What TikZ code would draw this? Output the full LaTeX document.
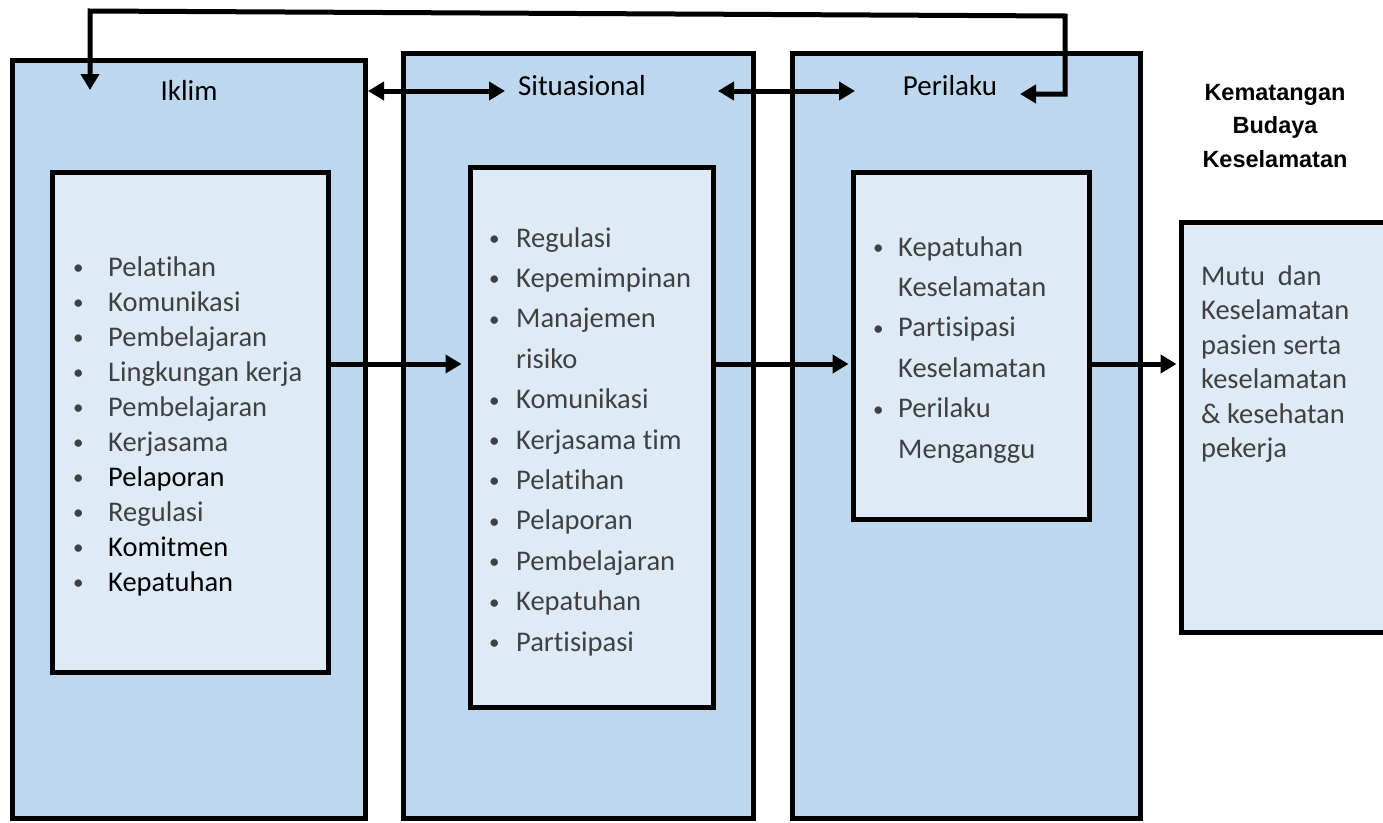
\documentclass[tikz,border=0pt]{standalone}
\usepackage{fontspec}
\setmainfont{Carlito}[Ligatures=NoCommon]
\newfontfamily\arialfont{Liberation Sans}
\usetikzlibrary{arrows.meta}
\definecolor{outerblue}{HTML}{BDD7EE}
\definecolor{innerblue}{HTML}{DEEBF7}
\definecolor{txtgray}{HTML}{404040}
\newcommand\bul[1]{\makebox[#1][l]{\raisebox{1.5pt}{\fontsize{21}{21}\selectfont\textbullet}}}
\begin{document}
\begin{tikzpicture}[x=1pt,y=-1pt,
  outerbox/.style={draw=black, line width=5pt, fill=outerblue, inner sep=0pt, rectangle},
  innerbox/.style={draw=black, line width=5pt, fill=innerblue, inner sep=0pt, rectangle},
  conn/.style={line width=5pt, -{Triangle[length=16pt,width=18pt]}},
  biconn/.style={line width=5pt, {Triangle[length=16pt,width=18pt]}-{Triangle[length=16pt,width=18pt]}},
  listtext/.style={anchor=base west, inner sep=0pt, text=txtgray},
  title/.style={anchor=base, inner sep=0pt, text=black, font=\fontsize{29}{35}\selectfont}]
\useasboundingbox (0,0) rectangle (1383,822);
\clip (0,0) rectangle (1383,822);
% outer boxes
\node[outerbox, minimum width=353pt, minimum height=758pt] (iklim) at (188.5,439) {};
\node[outerbox, minimum width=350pt, minimum height=765pt] (sit) at (578,435.5) {};
\node[outerbox, minimum width=348pt, minimum height=765pt] (per) at (966,435.5) {};
\node[innerbox, minimum width=230pt, minimum height=410pt] (hasil) at (1296,427) {};
% inner boxes
\node[innerbox, minimum width=276pt, minimum height=500pt] (iklimIn) at (190,422) {};
\node[innerbox, minimum width=243pt, minimum height=540pt] (sitIn) at (591.5,437) {};
\node[innerbox, minimum width=236pt, minimum height=347pt] (perIn) at (971,345.5) {};
% titles
\node[title] (tIklim) at (189,100) {Iklim};
\node[title] (tSit) at (582,95) {Situasional};
\node[title] (tPer) at (950,95) {Perilaku};
\node[anchor=base, inner sep=0pt] (tKem) at (1275,100) {\arialfont\bfseries\fontsize{23.5}{33.5}\selectfont
  \begin{tabular}[t]{@{}c@{}}Kematangan\\Budaya\\Keselamatan\end{tabular}};
% lists
\node[listtext] (lIklim) at (73,276) {\fontsize{28.5}{35}\selectfont
  \begin{tabular}[t]{@{}l@{}}
  \bul{35pt}Pelatihan\\
  \bul{35pt}Komunikasi\\
  \bul{35pt}Pembelajaran\\
  \bul{35pt}Lingkungan kerja\\
  \bul{35pt}Pembelajaran\\
  \bul{35pt}Kerjasama\\
  \bul{35pt}\textcolor{black}{Pelaporan}\\
  \bul{35pt}Regulasi\\
  \bul{35pt}\textcolor{black}{Komitmen}\\
  \bul{35pt}\textcolor{black}{Kepatuhan}
  \end{tabular}};
\node[listtext] (lSit) at (489,247) {\fontsize{28.5}{40.4}\selectfont
  \begin{tabular}[t]{@{}l@{}}
  \bul{27pt}Regulasi\\
  \bul{27pt}Kepemimpinan\\
  \bul{27pt}Manajemen\\
  \hspace{27pt}risiko\\
  \bul{27pt}Komunikasi\\
  \bul{27pt}Kerjasama tim\\
  \bul{27pt}Pelatihan\\
  \bul{27pt}Pelaporan\\
  \bul{27pt}Pembelajaran\\
  \bul{27pt}Kepatuhan\\
  \bul{27pt}Partisipasi
  \end{tabular}};
\node[listtext] (lPer) at (873,256) {\fontsize{28.5}{40.4}\selectfont
  \begin{tabular}[t]{@{}l@{}}
  \bul{25pt}Kepatuhan\\
  \hspace{25pt}Keselamatan\\
  \bul{25pt}Partisipasi\\
  \hspace{25pt}Keselamatan\\
  \bul{25pt}Perilaku\\
  \hspace{25pt}Menganggu
  \end{tabular}};
\node[listtext] (lHasil) at (1201,285) {\fontsize{28.5}{34.5}\selectfont
  \begin{tabular}[t]{@{}l@{}}
  Mutu\ \ dan\\
  Keselamatan\\
  pasien serta\\
  keselamatan\\
  \& kesehatan\\
  pekerja
  \end{tabular}};
% connector coordinates
\coordinate (midY) at (0,364);
\coordinate (a1) at (368,91);
\coordinate (a2) at (505,91);
\coordinate (b1) at (718,91);
\coordinate (b2) at (855,91);
\coordinate (fbTipR) at (1020,94);
\coordinate (fbR) at (1065,94);
\coordinate (fbRT) at (1065,16);
\coordinate (fbLT) at (90,11);
\coordinate (fbTipL) at (90,90);
% connectors
\draw[conn, shorten >=6pt] (iklimIn.east |- midY) -- (sitIn.west |- midY);
\draw[conn, shorten >=2pt] (sitIn.east |- midY) -- (perIn.west |- midY);
\draw[conn, shorten >=2pt] (perIn.east |- midY) -- (hasil.west |- midY);
\draw[biconn] (a1) -- (a2);
\draw[biconn] (b1) -- (b2);
\draw[biconn, line join=miter] (fbTipR) -- (fbR) -- (fbRT) -- (fbLT) -- (fbTipL);
\end{tikzpicture}
\end{document}
